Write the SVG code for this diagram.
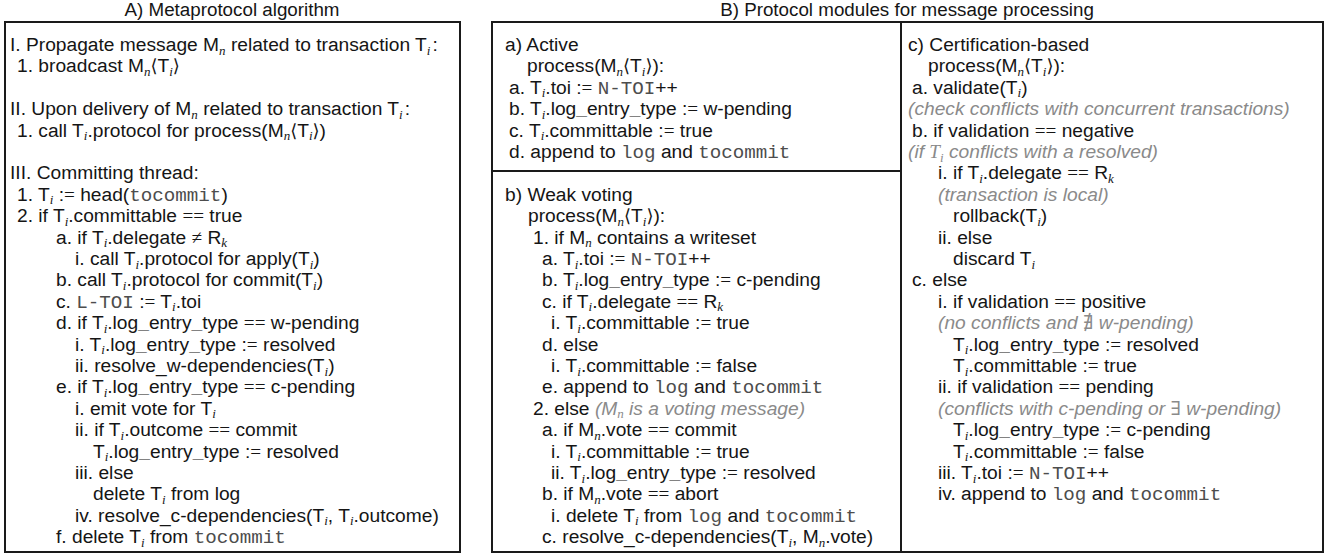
<svg xmlns="http://www.w3.org/2000/svg" width="1331" height="556" viewBox="0 0 1331 556">
<style>
.t{font-family:"Liberation Sans",Arial,sans-serif;font-size:19.2px;fill:#151515}
.h{font-family:"Liberation Sans",Arial,sans-serif;font-size:18.8px;fill:#151515;text-anchor:middle}
.s{font-family:"Liberation Serif","DejaVu Serif",serif;font-style:italic;font-size:13px}
.mi{font-family:"Liberation Serif","DejaVu Serif",serif;font-style:italic}
.m{font-family:"Liberation Mono","DejaVu Sans Mono",monospace;fill:#4d4d4d}
.o{font-family:"Liberation Serif","DejaVu Serif",serif}
.a{font-family:"DejaVu Serif",serif;font-size:18px}
.g{fill:#8a8a8a;font-style:italic}
.u{font-weight:700}
.box{fill:#fff;stroke:#1a1a1a;stroke-width:2}
.sep{stroke:#1a1a1a;stroke-width:2;fill:none}
</style>
<rect width="1331" height="556" fill="#fff"/>
<g id="titles">
<text class="h" x="232" y="16">A) Metaprotocol algorithm</text>
<text class="h" x="907" y="16">B) Protocol modules for message processing</text>
</g>
<g id="panel-a">
<rect class="box" x="5" y="22" width="455" height="530"/>
<text class="t" x="10" y="51">I. Propagate message M<tspan class="s" dy="3.5">n</tspan><tspan dy="-3.5"> related to transaction T</tspan><tspan class="s" dy="3.5">i</tspan><tspan dy="-3.5" dx="2">:</tspan></text>
<text class="t" x="17" y="72.4">1. broadcast M<tspan class="s" dy="3.5">n</tspan><tspan class="a" dy="-3.5">⟨</tspan>T<tspan class="s" dy="3.5">i</tspan><tspan class="a" dy="-3.5">⟩</tspan></text>
<text class="t" x="10" y="115.2">II. Upon delivery of M<tspan class="s" dy="3.5">n</tspan><tspan dy="-3.5"> related to transaction T</tspan><tspan class="s" dy="3.5">i</tspan><tspan dy="-3.5" dx="2">:</tspan></text>
<text class="t" x="17" y="136.6">1. call T<tspan class="s" dy="3.5">i</tspan><tspan dy="-3.5">.protocol for process(M</tspan><tspan class="s" dy="3.5">n</tspan><tspan class="a" dy="-3.5">⟨</tspan>T<tspan class="s" dy="3.5">i</tspan><tspan class="a" dy="-3.5">⟩</tspan>)</text>
<text class="t" x="10" y="179.4">III. Committing thread:</text>
<text class="t" x="17" y="200.8">1. T<tspan class="s" dy="3.5">i</tspan><tspan dy="-3.5"> :</tspan><tspan class="o">=</tspan> head(<tspan class="m">tocommit</tspan>)</text>
<text class="t" x="17" y="222.2">2. if T<tspan class="s" dy="3.5">i</tspan><tspan dy="-3.5">.committable </tspan><tspan class="o">==</tspan> true</text>
<text class="t" x="56" y="243.6">a. if T<tspan class="s" dy="3.5">i</tspan><tspan dy="-3.5">.delegate </tspan><tspan class="o">≠</tspan> R<tspan class="s" dy="3.5">k</tspan></text>
<text class="t" x="75" y="265">i. call T<tspan class="s" dy="3.5">i</tspan><tspan dy="-3.5">.protocol for apply(T</tspan><tspan class="s" dy="3.5">i</tspan><tspan dy="-3.5">)</tspan></text>
<text class="t" x="56" y="286.4">b. call T<tspan class="s" dy="3.5">i</tspan><tspan dy="-3.5">.protocol for commit(T</tspan><tspan class="s" dy="3.5">i</tspan><tspan dy="-3.5">)</tspan></text>
<text class="t" x="56" y="307.8">c. <tspan class="m">L-TOI</tspan> :<tspan class="o">=</tspan> T<tspan class="s" dy="3.5">i</tspan><tspan dy="-3.5">.toi</tspan></text>
<text class="t" x="56" y="329.2">d. if T<tspan class="s" dy="3.5">i</tspan><tspan dy="-3.5">.log</tspan><tspan class="u">_</tspan>entry<tspan class="u">_</tspan>type <tspan class="o">==</tspan> w-pending</text>
<text class="t" x="75" y="350.6">i. T<tspan class="s" dy="3.5">i</tspan><tspan dy="-3.5">.log</tspan><tspan class="u">_</tspan>entry<tspan class="u">_</tspan>type :<tspan class="o">=</tspan> resolved</text>
<text class="t" x="75" y="372">ii. resolve_w-dependencies(T<tspan class="s" dy="3.5">i</tspan><tspan dy="-3.5">)</tspan></text>
<text class="t" x="56" y="393.4">e. if T<tspan class="s" dy="3.5">i</tspan><tspan dy="-3.5">.log</tspan><tspan class="u">_</tspan>entry<tspan class="u">_</tspan>type <tspan class="o">==</tspan> c-pending</text>
<text class="t" x="75" y="414.8">i. emit vote for T<tspan class="s" dy="3.5">i</tspan></text>
<text class="t" x="75" y="436.2">ii. if T<tspan class="s" dy="3.5">i</tspan><tspan dy="-3.5">.outcome </tspan><tspan class="o">==</tspan> commit</text>
<text class="t" x="93" y="457.6">T<tspan class="s" dy="3.5">i</tspan><tspan dy="-3.5">.log</tspan><tspan class="u">_</tspan>entry<tspan class="u">_</tspan>type :<tspan class="o">=</tspan> resolved</text>
<text class="t" x="75" y="479">iii. else</text>
<text class="t" x="93" y="500.4">delete T<tspan class="s" dy="3.5">i</tspan><tspan dy="-3.5"> from log</tspan></text>
<text class="t" x="75" y="521.8">iv. resolve_c-dependencies(T<tspan class="s" dy="3.5">i</tspan><tspan dy="-3.5">, T</tspan><tspan class="s" dy="3.5">i</tspan><tspan dy="-3.5">.outcome)</tspan></text>
<text class="t" x="56" y="543.2">f. delete T<tspan class="s" dy="3.5">i</tspan><tspan dy="-3.5"> from </tspan><tspan class="m">tocommit</tspan></text>
</g>
<g id="panel-b">
<rect class="box" x="492" y="22" width="831" height="530"/>
</g>
<g id="connectors">
<line class="sep" x1="901" y1="22" x2="901" y2="552"/>
<line class="sep" x1="492" y1="171" x2="901" y2="171"/>
</g>
<g id="module-active">
<text class="t" x="505" y="51">a) Active</text>
<text class="t" x="527" y="72.4">process(M<tspan class="s" dy="3.5">n</tspan><tspan class="a" dy="-3.5">⟨</tspan>T<tspan class="s" dy="3.5">i</tspan><tspan class="a" dy="-3.5">⟩</tspan>):</text>
<text class="t" x="509" y="93.8">a. T<tspan class="s" dy="3.5">i</tspan><tspan dy="-3.5">.toi :</tspan><tspan class="o">=</tspan> <tspan class="m">N-TOI</tspan>++</text>
<text class="t" x="509" y="115.2">b. T<tspan class="s" dy="3.5">i</tspan><tspan dy="-3.5">.log</tspan><tspan class="u">_</tspan>entry<tspan class="u">_</tspan>type :<tspan class="o">=</tspan> w-pending</text>
<text class="t" x="509" y="136.6">c. T<tspan class="s" dy="3.5">i</tspan><tspan dy="-3.5">.committable :</tspan><tspan class="o">=</tspan> true</text>
<text class="t" x="509" y="158">d. append to <tspan class="m">log</tspan> and <tspan class="m">tocommit</tspan></text>
</g>
<g id="module-weak-voting">
<text class="t" x="505" y="200.8">b) Weak voting</text>
<text class="t" x="528" y="222.2">process(M<tspan class="s" dy="3.5">n</tspan><tspan class="a" dy="-3.5">⟨</tspan>T<tspan class="s" dy="3.5">i</tspan><tspan class="a" dy="-3.5">⟩</tspan>):</text>
<text class="t" x="533" y="243.6">1. if M<tspan class="s" dy="3.5">n</tspan><tspan dy="-3.5"> contains a writeset</tspan></text>
<text class="t" x="542" y="265">a. T<tspan class="s" dy="3.5">i</tspan><tspan dy="-3.5">.toi :</tspan><tspan class="o">=</tspan> <tspan class="m">N-TOI</tspan>++</text>
<text class="t" x="542" y="286.4">b. T<tspan class="s" dy="3.5">i</tspan><tspan dy="-3.5">.log</tspan><tspan class="u">_</tspan>entry<tspan class="u">_</tspan>type :<tspan class="o">=</tspan> c-pending</text>
<text class="t" x="542" y="307.8">c. if T<tspan class="s" dy="3.5">i</tspan><tspan dy="-3.5">.delegate </tspan><tspan class="o">==</tspan> R<tspan class="s" dy="3.5">k</tspan></text>
<text class="t" x="551" y="329.2">i. T<tspan class="s" dy="3.5">i</tspan><tspan dy="-3.5">.committable :</tspan><tspan class="o">=</tspan> true</text>
<text class="t" x="542" y="350.6">d. else</text>
<text class="t" x="551" y="372">i. T<tspan class="s" dy="3.5">i</tspan><tspan dy="-3.5">.committable :</tspan><tspan class="o">=</tspan> false</text>
<text class="t" x="542" y="393.4">e. append to <tspan class="m">log</tspan> and <tspan class="m">tocommit</tspan></text>
<text class="t" x="533" y="414.8">2. else <tspan class="g">(M</tspan><tspan class="s g" dy="3.5">n</tspan><tspan class="g" dy="-3.5"> is a voting message)</tspan></text>
<text class="t" x="542" y="436.2">a. if M<tspan class="s" dy="3.5">n</tspan><tspan dy="-3.5">.vote </tspan><tspan class="o">==</tspan> commit</text>
<text class="t" x="551" y="457.6">i. T<tspan class="s" dy="3.5">i</tspan><tspan dy="-3.5">.committable :</tspan><tspan class="o">=</tspan> true</text>
<text class="t" x="551" y="479">ii. T<tspan class="s" dy="3.5">i</tspan><tspan dy="-3.5">.log</tspan><tspan class="u">_</tspan>entry<tspan class="u">_</tspan>type :<tspan class="o">=</tspan> resolved</text>
<text class="t" x="542" y="500.4">b. if M<tspan class="s" dy="3.5">n</tspan><tspan dy="-3.5">.vote </tspan><tspan class="o">==</tspan> abort</text>
<text class="t" x="551" y="521.8">i. delete T<tspan class="s" dy="3.5">i</tspan><tspan dy="-3.5"> from </tspan><tspan class="m">log</tspan> and <tspan class="m">tocommit</tspan></text>
<text class="t" x="542" y="543.2">c. resolve_c-dependencies(T<tspan class="s" dy="3.5">i</tspan><tspan dy="-3.5">, M</tspan><tspan class="s" dy="3.5">n</tspan><tspan dy="-3.5">.vote)</tspan></text>
</g>
<g id="module-certification">
<text class="t" x="908" y="51">c) Certification-based</text>
<text class="t" x="928" y="72.4">process(M<tspan class="s" dy="3.5">n</tspan><tspan class="a" dy="-3.5">⟨</tspan>T<tspan class="s" dy="3.5">i</tspan><tspan class="a" dy="-3.5">⟩</tspan>):</text>
<text class="t" x="912" y="93.8">a. validate(T<tspan class="s" dy="3.5">i</tspan><tspan dy="-3.5">)</tspan></text>
<text class="t g" x="908" y="115.2">(check conflicts with concurrent transactions)</text>
<text class="t" x="912" y="136.6">b. if validation <tspan class="o">==</tspan> negative</text>
<text class="t g" x="908" y="158">(if <tspan class="mi">T</tspan><tspan class="s" dy="3.5">i</tspan><tspan dy="-3.5"> conflicts with a resolved)</tspan></text>
<text class="t" x="938" y="179.4">i. if T<tspan class="s" dy="3.5">i</tspan><tspan dy="-3.5">.delegate </tspan><tspan class="o">==</tspan> R<tspan class="s" dy="3.5">k</tspan></text>
<text class="t g" x="938" y="200.8">(transaction is local)</text>
<text class="t" x="953" y="222.2">rollback(T<tspan class="s" dy="3.5">i</tspan><tspan dy="-3.5">)</tspan></text>
<text class="t" x="938" y="243.6">ii. else</text>
<text class="t" x="953" y="265">discard T<tspan class="s" dy="3.5">i</tspan></text>
<text class="t" x="912" y="286.4">c. else</text>
<text class="t" x="938" y="307.8">i. if validation <tspan class="o">==</tspan> positive</text>
<text class="t g" x="938" y="329.2">(no conflicts and <tspan class="o">∄</tspan> w-pending)</text>
<text class="t" x="953" y="350.6">T<tspan class="s" dy="3.5">i</tspan><tspan dy="-3.5">.log</tspan><tspan class="u">_</tspan>entry<tspan class="u">_</tspan>type :<tspan class="o">=</tspan> resolved</text>
<text class="t" x="953" y="372">T<tspan class="s" dy="3.5">i</tspan><tspan dy="-3.5">.committable :</tspan><tspan class="o">=</tspan> true</text>
<text class="t" x="938" y="393.4">ii. if validation <tspan class="o">==</tspan> pending</text>
<text class="t g" x="938" y="414.8">(conflicts with c-pending or <tspan class="o">∃</tspan> w-pending)</text>
<text class="t" x="953" y="436.2">T<tspan class="s" dy="3.5">i</tspan><tspan dy="-3.5">.log</tspan><tspan class="u">_</tspan>entry<tspan class="u">_</tspan>type :<tspan class="o">=</tspan> c-pending</text>
<text class="t" x="953" y="457.6">T<tspan class="s" dy="3.5">i</tspan><tspan dy="-3.5">.committable :</tspan><tspan class="o">=</tspan> false</text>
<text class="t" x="938" y="479">iii. T<tspan class="s" dy="3.5">i</tspan><tspan dy="-3.5">.toi :</tspan><tspan class="o">=</tspan> <tspan class="m">N-TOI</tspan>++</text>
<text class="t" x="938" y="500.4">iv. append to <tspan class="m">log</tspan> and <tspan class="m">tocommit</tspan></text>
</g>
</svg>
